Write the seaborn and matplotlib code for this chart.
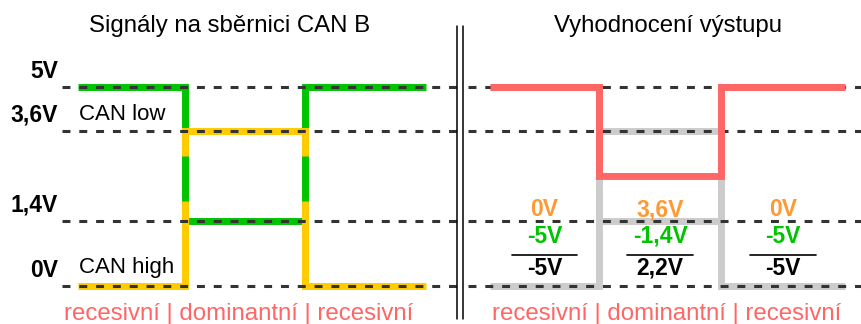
import numpy as np
import seaborn as sns
import matplotlib.pyplot as plt
from matplotlib import transforms
from matplotlib.lines import Line2D

# signal timing (segment edges) and voltage levels
t = [0, 1, 2.12, 3.25]
levels = [0, 1.4, 3.6, 5]
level_labels = ["0V", "1,4V", "3,6V", "5V"]
can_low = [5, 1.4, 5, 5]
can_high = [0, 3.6, 0, 0]
output = [5, 2.5, 5, 5]
states = ["recesivní", "dominantní", "recesivní"]

GREEN = "#00c400"
YELLOW = "#ffcc00"
RED = "#ff6666"
ORANGE = "#ff9933"
GRAY = "#cccccc"
DASH = "#333333"

# uneven spacing of the level lines (pixels above 0V)
level_px = [0, 65, 155, 199]


def fwd(v):
    return np.interp(v, levels, level_px)


def inv(p):
    return np.interp(p, level_px, levels)


def fmt(v):
    return f"{round(v, 2):g}".replace(".", ",") + "V"


sns.set_theme(style="white")
plt.rcParams["font.family"] = ["Liberation Sans", "DejaVu Sans"]
plt.rcParams["text.color"] = "black"

W, H = 861, 324
fig = plt.figure(figsize=(W / 100, H / 100), dpi=100)
ax_l = fig.add_axes([62 / W, 38 / H, 395 / W, 199 / H])
ax_r = fig.add_axes([468 / W, 38 / H, 393 / W, 199 / H])

line_kw = dict(drawstyle="steps-post", lw=5, solid_capstyle="butt",
               solid_joinstyle="miter", clip_on=False, legend=False)

# left panel: CAN low / CAN high
sns.lineplot(x=t, y=can_low, ax=ax_l, color=GREEN, zorder=1, **line_kw)
sns.lineplot(x=t, y=can_high, ax=ax_l, color=YELLOW, zorder=2, **line_kw)

# green shows through the middle of the overlapping edges
p_lo = fwd(max(min(can_low), min(can_high)))
p_hi = fwd(min(max(can_low), max(can_high)))
ax_l.vlines(t[1:3], inv(p_lo + 0.22 * (p_hi - p_lo)),
            inv(p_lo + 0.72 * (p_hi - p_lo)), color=GREEN, lw=5,
            capstyle="butt", zorder=2.5)

# right panel: evaluated output
sns.lineplot(x=t, y=can_low, ax=ax_r, color=GRAY, zorder=1, **line_kw)
sns.lineplot(x=t, y=can_high, ax=ax_r, color=GRAY, zorder=1, **line_kw)
sns.lineplot(x=t, y=output, ax=ax_r, color=RED, zorder=4, **line_kw)

for ax, xlim in ((ax_l, (-0.15, 3.54)), (ax_r, (-0.2, 3.4))):
    ax.set_yscale("function", functions=(fwd, inv))
    for lv in levels:
        ax.axhline(lv, color=DASH, lw=2.2, dashes=(2.6, 2.9), zorder=3,
                   clip_on=False)
    ax.set_xlim(*xlim)
    ax.set_ylim(0, 5)
    ax.axis("off")

# level labels
for lv, lab in zip(levels, level_labels):
    ax_l.annotate(lab, xy=(0, lv), xycoords=("axes fraction", "data"),
                  xytext=(-3, 6.5), textcoords="offset points", ha="right",
                  va="baseline", fontsize=16.5, fontweight="bold")

ax_l.annotate("CAN low", xy=(t[0], levels[2]), xytext=(1, 8),
              textcoords="offset points", ha="left", va="baseline",
              fontsize=16)
ax_l.annotate("CAN high", xy=(t[0], levels[0]), xytext=(1, 9.4),
              textcoords="offset points", ha="left", va="baseline",
              fontsize=16)

# differential evaluation per segment
blend = transforms.blended_transform_factory(ax_r.transData, fig.transFigure)
for i in range(3):
    mid = (t[i] + t[i + 1]) / 2
    h, low = can_high[i], can_low[i]
    ax_r.text(mid, 1 - 216 / H, fmt(h), transform=blend, ha="center",
              va="baseline", fontsize=16.5, fontweight="bold", color=ORANGE)
    ax_r.text(mid, 1 - 243 / H, fmt(-low), transform=blend, ha="center",
              va="baseline", fontsize=16.5, fontweight="bold", color=GREEN)
    ax_r.plot([mid - 0.3, mid + 0.3], [1 - 255 / H] * 2, transform=blend,
              color="black", lw=1.2, clip_on=False)
    ax_r.text(mid, 1 - 275 / H, fmt(h - low), transform=blend, ha="center",
              va="baseline", fontsize=16.5, fontweight="bold", color="black")

# titles and state captions
fig.text(230 / W, 1 - 32 / H, "Signály na sběrnici CAN B", ha="center",
         va="baseline", fontsize=17.3)
fig.text(668 / W, 1 - 32 / H, "Vyhodnocení výstupu", ha="center",
         va="baseline", fontsize=17.3)
caption = " | ".join(states)
fig.text(239 / W, 1 - 320 / H, caption, ha="center", va="baseline",
         fontsize=17.3, color=RED)
fig.text(667 / W, 1 - 320 / H, caption, ha="center", va="baseline",
         fontsize=17.3, color=RED)

# double separator
for x in (457.5, 463.2):
    fig.add_artist(Line2D([x / W, x / W], [1 - 26 / H, 1 - 319 / H],
                          color="black", lw=1.1))

fig.savefig("out.png", dpi=100)
